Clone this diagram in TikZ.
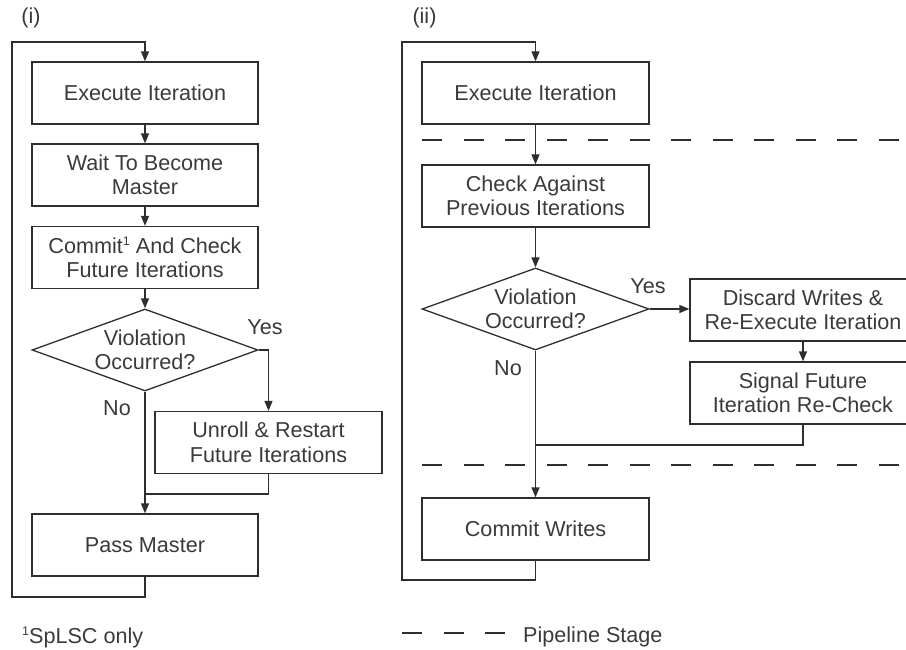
\documentclass[tikz,border=0pt]{standalone}
\usepackage{fontspec}
\setmainfont{Liberation Sans}
\usetikzlibrary{arrows.meta,shapes.geometric}
\definecolor{ink}{HTML}{2E2E2E}
\definecolor{txt}{HTML}{3A3A3A}
% small raised footnote mark
\newcommand\fnmarkone{\raisebox{7.4pt}{\fontsize{12.5}{12.5}\selectfont 1}}
\tikzset{
  every node/.style={font=\fontsize{21.6}{24.5}\selectfont, text=txt},
  stepbox/.style={draw=ink, line width=1.3pt, rectangle, minimum width=226pt,
    minimum height=62pt, inner sep=0pt, align=center},
  decision/.style={draw=ink, line width=1.3pt, diamond, minimum width=226pt,
    minimum height=82pt, inner sep=0pt},
  link/.style={draw=ink, line width=1.3pt},
  flow/.style={link, -{Triangle[length=10pt,width=8pt]}},
  stage/.style={draw=ink, line width=1.3pt, dash pattern=on 20pt off 21.5pt},
  tag/.style={inner sep=0pt},
}
\begin{document}
\begin{tikzpicture}[x=1pt,y=-1pt]
\clip (0,0) rectangle (906,650);
\useasboundingbox (0,0) rectangle (906,650);

% ---------- (i) ----------
\node[tag] (ti) at (31,18) {(i)};
\node[stepbox] (ex1) at (145,93) {Execute Iteration};
\node[stepbox] (wm) at (145,175) {Wait To Become\\Master};
\node[stepbox] (cc) at (145,257.5) {Commit\fnmarkone{} And Check\\Future Iterations};
\node[decision, label={center:{\parbox{6cm}{\centering Violation\\Occurred?}}}] (d1) at (145,350) {};
\node[stepbox, minimum width=227pt] (ur) at (268.5,442.5) {Unroll \& Restart\\Future Iterations};
\node[stepbox] (pm) at (145,545) {Pass Master};
\node[tag] (y1) at (265,327) {Yes};
\node[tag] (n1) at (117,408) {No};

\coordinate (lb1) at (12,597);
\coordinate (lt1) at (12,42);
\coordinate (mg1) at (145,494);

\draw[flow] (pm.south) |- (lb1) -- (lt1) -| (ex1.north);
\draw[flow] (ex1) -- (wm);
\draw[flow] (wm) -- (cc);
\draw[flow] (cc) -- (d1.north);
\draw[flow] (d1.east) -| (ur.north);
\draw[link] (ur.south) |- (mg1);
\draw[flow] (d1.south) -- (pm.north);

\node[tag, anchor=base west] (fn) at (22,643) {\fnmarkone SpLSC only};

% ---------- (ii) ----------
\node[tag] (tii) at (424.5,18) {(ii)};
\node[stepbox, minimum width=227pt] (ex2) at (535.5,93) {Execute Iteration};
\node[stepbox, minimum width=227pt] (ck) at (535.5,196) {Check Against\\Previous Iterations};
\node[decision, minimum width=227pt, label={center:{\parbox{6cm}{\centering Violation\\Occurred?}}}] (d2) at (535.5,309) {};
\node[stepbox] (dw) at (803,310) {Discard Writes \&\\Re-Execute Iteration};
\node[stepbox] (sf) at (803,393) {Signal Future\\Iteration Re-Check};
\node[stepbox, minimum width=227pt] (cw) at (535.5,529) {Commit Writes};
\node[tag] (y2) at (648,286) {Yes};
\node[tag] (n2) at (508,368) {No};

\coordinate (lb2) at (402,580);
\coordinate (lt2) at (402,42);
\coordinate (mg2) at (535.5,445);

\draw[stage] (422,140) -- (920,140);
\draw[stage] (422,465) -- (920,465);

\draw[flow] (cw.south) |- (lb2) -- (lt2) -| (ex2.north);
\draw[flow] (ex2) -- (ck);
\draw[flow] (ck) -- (d2.north);
\draw[flow] (d2.east) -- (d2.east -| dw.west);
\draw[flow] (dw) -- (sf);
\draw[link] (sf.south) |- (mg2);
\draw[flow] (d2.south) -- (cw.north);

% legend
\draw[stage] (402,633) -- (505,633);
\node[tag, anchor=base west] (lg) at (523,642) {Pipeline Stage};
\end{tikzpicture}
\end{document}
